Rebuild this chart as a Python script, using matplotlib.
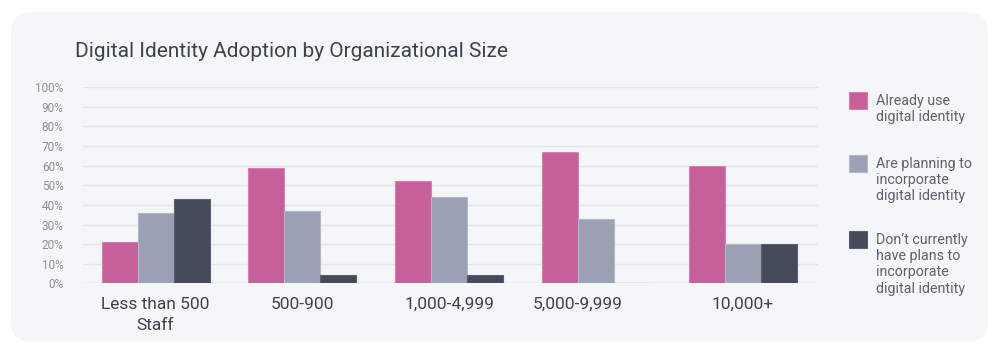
import matplotlib
matplotlib.use("Agg")
import matplotlib.pyplot as plt
from matplotlib.patches import FancyBboxPatch, Rectangle
import numpy as np

categories = ["Less than 500\nStaff", "500-900", "1,000-4,999", "5,000-9,999", "10,000+"]
series_names = ["Already use\ndigital identity",
                "Are planning to\nincorporate\ndigital identity",
                "Don\u2019t currently\nhave plans to\nincorporate\ndigital identity"]
already_use = [21, 59, 52, 67, 60]
planning = [36, 37, 44, 33, 20]
no_plans = [43, 4, 4, 0, 20]
y_ticks = [0, 10, 20, 30, 40, 50, 60, 70, 80, 90, 100]

colors = ["#c5609a", "#9ba1b4", "#444a5a"]
edges = ["#d77fb0", "#b3b8c8", "#5a6072"]

plt.rcParams['font.family'] = ['Roboto', 'DejaVu Sans']

W, H = 1000, 354
fig = plt.figure(figsize=(10, 3.54), dpi=100)
fig.patch.set_facecolor("white")
panel = FancyBboxPatch((0.011, 0.035), 0.977, 0.93,
                       boxstyle="round,pad=0,rounding_size=0.02",
                       transform=fig.transFigure, facecolor="#f5f6f8",
                       edgecolor="none", zorder=-5, mutation_aspect=2.8)
fig.patches.append(panel)

ax = fig.add_axes([0.083, 0.1997, 0.735, 0.5537])
ax.set_facecolor("none")
ax.set_zorder(2)

x = np.arange(len(categories))
w = 0.245
data = [already_use, planning, no_plans]
for i, vals in enumerate(data):
    ax.bar(x + (i - 1) * w, vals, width=w, color=colors[i], edgecolor=edges[i],
           linewidth=0.8, zorder=3)

ax.set_ylim(0, 100)
ax.set_xlim(-0.494, len(categories) - 1 + 0.511)
ax.set_yticks(y_ticks)
ax.set_yticklabels([f"{t}%" for t in y_ticks], fontsize=8.5, color="#8a8f9c")
ax.yaxis.grid(True, color="#e3e5ea", linewidth=1, zorder=0)
ax.tick_params(axis="y", length=0, pad=14)
ax.tick_params(axis="x", length=0, pad=10)

# tick positions: centre of the bars that carry data
tick_pos = []
for j in range(len(categories)):
    offs = [(i - 1) * w for i in range(3) if data[i][j] > 0]
    tick_pos.append(x[j] + np.mean(offs))
ax.set_xticks(tick_pos)
ax.set_xticklabels(categories, fontsize=12.5, color="#3d4250", linespacing=1.45)
for s in ax.spines.values():
    s.set_visible(False)
ax.axhline(0, color="#dcdfe5", linewidth=1, zorder=2)

fig.text(0.075, 0.855, "Digital Identity Adoption by Organizational Size",
         fontsize=15, color="#3d4250", va="center", ha="left")

# legend drawn manually (pixel tops of the squares)
sq_tops = [92, 155, 231]
sq = 17
for i, top in enumerate(sq_tops):
    fig.patches.append(Rectangle((849 / W, 1 - (top + sq) / H), 18 / W, sq / H,
                                 transform=fig.transFigure, facecolor=colors[i],
                                 edgecolor=edges[i], linewidth=0.8, zorder=3))
    fig.text(876 / W, 1 - (top + 2) / H, series_names[i], fontsize=10.3,
             color="#5c6170", va="top", ha="left", linespacing=1.2)

fig.savefig("out.png", dpi=100, facecolor="white")
